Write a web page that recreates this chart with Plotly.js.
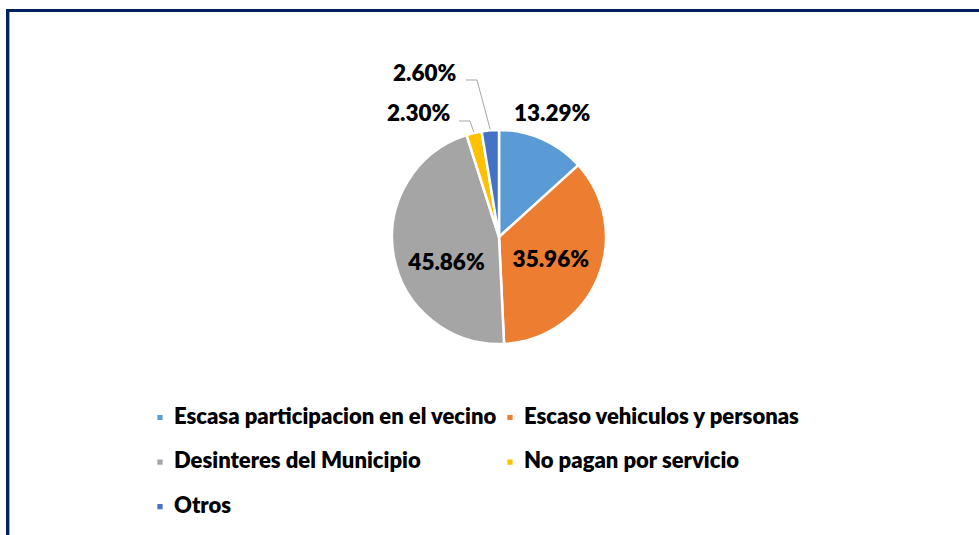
<!DOCTYPE html>
<html>
<head>
<meta charset="utf-8">
<script src="https://cdn.plot.ly/plotly-3.0.1.min.js"></script>
<style>
  html, body { margin: 0; padding: 0; background: #fff; }
  #wrap { position: relative; width: 979px; height: 535px; overflow: hidden; }
  #chart { position: absolute; left: 0; top: 0; width: 979px; height: 535px; }
  #frame { position: absolute; left: 6px; top: 9px; width: 1000px; height: 600px;
           border-top: 3px solid #002060; border-left: 3px solid #002060;
           box-shadow: inset 1px 0 0 #8ea9db; pointer-events: none; }
  #chart .legendpie { transform: translate(20px, 0px) scale(0.55) !important; }
  #chart .legendtext { transform: translateX(-6px); }
</style>
</head>
<body>
<div id="wrap">
  <div id="chart"></div>
  <div id="frame"></div>
</div>
<script>
const categories = [
  "Escasa participacion en el vecino",
  "Escaso vehiculos y personas",
  "Desinteres del Municipio",
  "No pagan por servicio",
  "Otros"
];
const values = [13.29, 35.96, 45.86, 2.30, 2.60];
const colors = ["#5B9BD5", "#ED7D31", "#A5A5A5", "#FFC000", "#4472C4"];

const FONT = "Lato, 'Open Sans', sans-serif";
const W = 979, H = 535;
const px2x = p => p / W;
const py2y = p => 1 - p / H;

// pie geometry (pixels)
const CX = 499, CY = 237, R = 107;

// slice mid-angle points (computed from the data)
const total = values.reduce((a, b) => a + b, 0);
const tips = [];
let cum = 0;
values.forEach(v => {
  const th = 2 * Math.PI * (cum + v / 2) / total;
  tips.push([CX + (R + 1) * Math.sin(th), CY - (R + 1) * Math.cos(th)]);
  cum += v;
});

// inside label templates (blank first line nudges the grey label down); others are outside labels
const insideTemplates = ["", "%{value:.2f}%", "&nbsp;<br>%{value:.2f}%", "", ""];
// outside label placement (pixel centres) and leader elbows
const outsideLabel = {
  0: { c: [552, 113], leader: null },
  3: { c: [419, 113], leader: [[459, 121], [470, 121]] },
  4: { c: [425, 72], leader: [[466, 80], [477, 80]] }
};

const annotations = [];
const shapes = [];
Object.keys(outsideLabel).forEach(k => {
  const i = +k, o = outsideLabel[k];
  annotations.push({
    xref: "paper", yref: "paper",
    x: px2x(o.c[0]), y: py2y(o.c[1]),
    xanchor: "center", yanchor: "middle",
    showarrow: false,
    text: values[i].toFixed(2) + "%",
    font: { family: FONT, size: 22.5, color: "#000000", weight: 800 }
  });
  if (o.leader) {
    const pts = o.leader.concat([tips[i]]);
    const d = pts.map((p, j) => (j ? "L" : "M") + px2x(p[0]).toFixed(5) + "," + py2y(p[1]).toFixed(5)).join(" ");
    shapes.push({
      type: "path", xref: "paper", yref: "paper", path: d,
      line: { color: "#A6A6A6", width: 1 }
    });
  }
});

// legend labels: first line large, blank second line for row spacing (last row single line)
const legendLabels = categories.map((c, i) =>
  "<span style='font-size:22px'>" + c + "</span>" + (i < categories.length - 1 ? "<br>&nbsp;" : ""));

const trace = {
  type: "pie",
  labels: legendLabels,
  values: values,
  sort: false,
  direction: "clockwise",
  rotation: 0,
  marker: { colors: colors, line: { color: "#ffffff", width: 2.5 } },
  texttemplate: insideTemplates,
  textposition: insideTemplates.map(t => t ? "inside" : "none"),
  insidetextorientation: "horizontal",
  insidetextfont: { family: FONT, size: 22.5, color: "#000000", weight: 800 },
  hoverinfo: "label+percent",
  domain: { x: [px2x(CX - R), px2x(CX + R)], y: [py2y(CY + R), py2y(CY - R)] }
};

const layout = {
  width: W,
  height: H,
  margin: { l: 0, r: 0, t: 0, b: 0 },
  paper_bgcolor: "#ffffff",
  showlegend: true,
  annotations: annotations,
  shapes: shapes,
  legend: {
    orientation: "h",
    x: 0.143,
    xanchor: "left",
    y: 0.2512,
    yanchor: "top",
    entrywidth: 305,
    valign: "top",
    font: { family: FONT, size: 16, color: "#000000", weight: 800 }
  }
};

Plotly.newPlot("chart", [trace], layout, { displayModeBar: false, staticPlot: true });
</script>
</body>
</html>
